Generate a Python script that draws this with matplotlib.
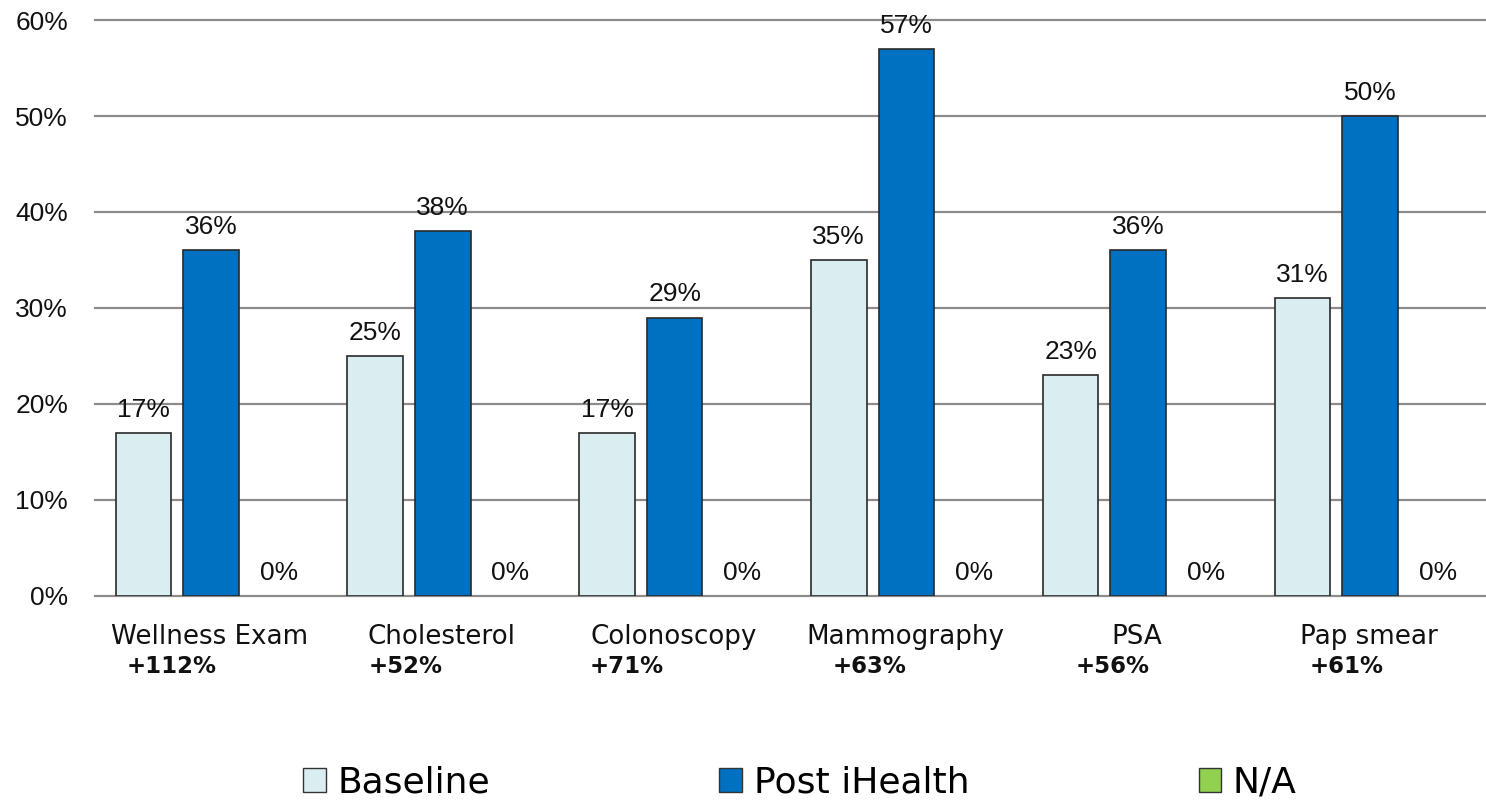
import numpy as np
import matplotlib
matplotlib.use("Agg")
import matplotlib.pyplot as plt
from matplotlib.patches import Patch

# values
categories = ["Wellness Exam", "Cholesterol", "Colonoscopy", "Mammography", "PSA", "Pap smear"]
baseline = [17, 25, 17, 35, 23, 31]
post_ihealth = [36, 38, 29, 57, 36, 50]
na_values = [0, 0, 0, 0, 0, 0]
change_labels = ["+112%", "+52%", "+71%", "+63%", "+56%", "+61%"]
# horizontal nudge of the bold change labels from each group centre
change_offsets = [-0.17, -0.161, -0.208, -0.161, -0.109, -0.101]

series = [("Baseline", baseline, "#DAEDF1"),
          ("Post iHealth", post_ihealth, "#0070C0"),
          ("N/A", na_values, "#92D050")]

fig = plt.figure(figsize=(14.86, 8.02), dpi=100)
ax = fig.add_axes([0.064, 0.257, 0.936, 0.718])

x = np.arange(len(categories))
step = 0.292
width = 0.24
for k, (name, vals, col) in enumerate(series):
    pos = x + (k - 1) * step
    v = np.array(vals) / 100.0
    # zero height bars leave no visible outline in the original
    lw = [1.2 if val > 0 else 0 for val in vals]
    ax.bar(pos, v, width, color=col, edgecolor="#2a2a2a", linewidth=lw, zorder=3)
    for px, py, raw in zip(pos, v, vals):
        ax.annotate(f"{raw}%", (px, py), xytext=(0, 8), textcoords="offset points",
                    ha="center", va="bottom", fontsize=19, family="Liberation Sans",
                    color="#111111")

ax.set_xlim(-0.5, len(categories) - 0.5)
ax.set_ylim(0, 0.6)
ticks = np.arange(0, 0.61, 0.1)
ax.set_yticks(ticks)
ax.set_yticklabels([f"{int(round(t * 100))}%" for t in ticks],
                   fontsize=19, family="Liberation Sans", color="#111111")
ax.tick_params(axis="y", length=0, pad=19.5)
ax.set_xticks([])
ax.yaxis.grid(True, color="#8C8C8C", linewidth=1.6, zorder=0)
for gl in ax.get_ygridlines():
    gl.set_clip_on(False)
ax.set_axisbelow(True)
for s in ax.spines.values():
    s.set_visible(False)

trans = ax.get_xaxis_transform()
for i, (cat, lab, off) in enumerate(zip(categories, change_labels, change_offsets)):
    ax.text(i - 0.005, -0.071, cat, transform=trans, ha="center", va="center",
            fontsize=18.8, family="DejaVu Sans", color="#111111")
    ax.text(i + off, -0.123, lab, transform=trans, ha="center", va="center",
            fontsize=16.5, family="DejaVu Sans", fontweight="bold", color="#111111")

handles = [Patch(facecolor=c, edgecolor="#333333", linewidth=1.0, label=n) for n, _, c in series]
fig.legend(handles=handles, loc="center left", bbox_to_anchor=(0.204, 0.024),
           ncol=3, frameon=False, handlelength=0.62, handleheight=0.62,
           handletextpad=0.33, columnspacing=6.35, borderpad=0, borderaxespad=0,
           prop={"family": "DejaVu Sans", "size": 26})

fig.savefig("out.png", dpi=100)
